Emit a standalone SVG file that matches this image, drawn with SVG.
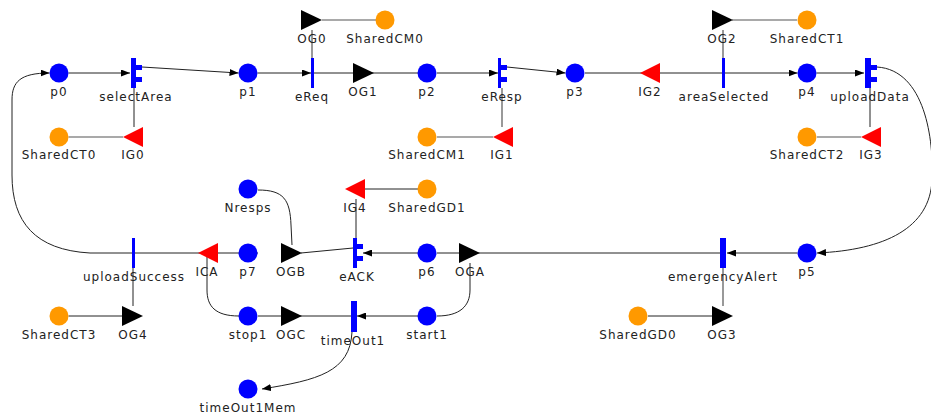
<svg xmlns="http://www.w3.org/2000/svg" width="931" height="417" viewBox="0 0 931 417">
<defs>
<style>
.pl{fill:#0000ff}
.sh{fill:#ff9900}
.og{fill:#000}
.ig{fill:#ff0000}
.tr{fill:#0000ff}
.lb{font-family:"DejaVu Sans",sans-serif;font-size:12px;letter-spacing:1px;fill:#222;text-anchor:middle}
.ar{fill:none;stroke:#222;stroke-width:1}
.gl{fill:none;stroke:#555;stroke-width:1.2}
.ah{marker-end:url(#arr)}
</style>
<marker id="arr" markerUnits="userSpaceOnUse" markerWidth="9" markerHeight="7" refX="9" refY="3.5" orient="auto">
<path d="M0,0 L9,3.5 L0,7 z" fill="#000"/>
</marker>
</defs>
<rect width="931" height="417" fill="#fff"/>
<g id="connectors">
<path class="ar ah" d="M68.5,73 L130,73"/>
<path class="ar ah" d="M142,67 L238.5,73"/>
<path class="ar ah" d="M257.5,73 L311,73"/>
<path class="ar" d="M314,73 L418,73"/>
<path class="ar ah" d="M437,73 L498,73"/>
<path class="ar ah" d="M507,67 L565.5,73"/>
<path class="ar" d="M585,73 L722,73"/>
<path class="ar ah" d="M725,73 L797.5,73"/>
<path class="ar ah" d="M816.5,73 L864,73"/>
<path class="ar ah" d="M877,67 C925,70 934,140 932,180 C930,228 885,250 817,253"/>
<path class="ar ah" d="M797.5,253 L727,253"/>
<path class="ar" d="M720,253 L437,253"/>
<path class="ar ah" d="M418,253 L363,253"/>
<path class="ar" d="M301,253 L353,248"/>
<path class="ar" d="M258,253 L239,253"/>
<path class="ar" d="M239,253 L135,253"/>
<path class="ar ah" d="M132,253 L90,253 C35,250 12,222 12,175 L12,100 C12,82 20,73 49.5,73"/>
<path class="ar" d="M258,190 C284,190 290,200 291,225 L292,245"/>
<path class="ar" d="M207,253 L207,290 C207,306 215,316 239,316"/>
<path class="ar" d="M258,316 L351,316"/>
<path class="ar ah" d="M418,316 L357,316"/>
<path class="ar" d="M470,263 L470,290 C470,306 460,316 437,316"/>
<path class="ar ah" d="M352,332 C350,372 318,380 262,389"/>
<path class="gl" d="M312,30 L312,58"/>
<path class="ar" d="M134,127 L134,88"/>
<path class="gl" d="M502,127 L502,88"/>
<path class="gl" d="M723,30 L723,58"/>
<path class="ar" d="M870,127 L870,88"/>
<path class="ar" d="M356,199 L356,238"/>
<path class="ar" d="M133,268 L133,306"/>
<path class="gl" d="M723,268 L723,306"/>
<path class="gl" d="M68.5,137 L123,137"/>
<path class="gl" d="M322,20 L376,20"/>
<path class="gl" d="M437,137 L493,137"/>
<path class="gl" d="M732,20 L797,20"/>
<path class="gl" d="M817,137 L861,137"/>
<path class="ar" d="M365,189 L418,189"/>
<path class="ar" d="M68.5,316 L122,316"/>
<path class="ar" d="M648,316 L712,316"/>
</g>
<g id="p0"><circle class="pl" cx="59" cy="73" r="9.5"/><text class="lb" x="59" y="96">p0</text></g>
<g id="p1"><circle class="pl" cx="248" cy="73" r="9.5"/><text class="lb" x="248" y="96">p1</text></g>
<g id="p2"><circle class="pl" cx="427" cy="73" r="9.5"/><text class="lb" x="427" y="96">p2</text></g>
<g id="p3"><circle class="pl" cx="575" cy="73" r="9.5"/><text class="lb" x="575" y="96">p3</text></g>
<g id="p4"><circle class="pl" cx="807" cy="73" r="9.5"/><text class="lb" x="807" y="96">p4</text></g>
<g id="Nresps"><circle class="pl" cx="248" cy="189" r="9.5"/><text class="lb" x="248" y="212">Nresps</text></g>
<g id="p7"><circle class="pl" cx="248" cy="253" r="9.5"/><text class="lb" x="248" y="276">p7</text></g>
<g id="p6"><circle class="pl" cx="427" cy="253" r="9.5"/><text class="lb" x="427" y="276">p6</text></g>
<g id="p5"><circle class="pl" cx="807" cy="253" r="9.5"/><text class="lb" x="807" y="276">p5</text></g>
<g id="stop1"><circle class="pl" cx="248" cy="316" r="9.5"/><text class="lb" x="248" y="339">stop1</text></g>
<g id="start1"><circle class="pl" cx="427" cy="316" r="9.5"/><text class="lb" x="427" y="339">start1</text></g>
<g id="timeOut1Mem"><circle class="pl" cx="248" cy="389" r="9.5"/><text class="lb" x="248" y="412">timeOut1Mem</text></g>
<g id="SharedCT0"><circle class="sh" cx="59" cy="137" r="9.5"/><text class="lb" x="59" y="159">SharedCT0</text></g>
<g id="SharedCM0"><circle class="sh" cx="385" cy="20" r="9.5"/><text class="lb" x="385" y="43">SharedCM0</text></g>
<g id="SharedCM1"><circle class="sh" cx="427" cy="137" r="9.5"/><text class="lb" x="427" y="159">SharedCM1</text></g>
<g id="SharedCT1"><circle class="sh" cx="807" cy="20" r="9.5"/><text class="lb" x="807" y="43">SharedCT1</text></g>
<g id="SharedCT2"><circle class="sh" cx="807" cy="137" r="9.5"/><text class="lb" x="807" y="159">SharedCT2</text></g>
<g id="SharedGD1"><circle class="sh" cx="427" cy="189" r="9.5"/><text class="lb" x="427" y="212">SharedGD1</text></g>
<g id="SharedCT3"><circle class="sh" cx="59" cy="316" r="9.5"/><text class="lb" x="59" y="339">SharedCT3</text></g>
<g id="SharedGD0"><circle class="sh" cx="638" cy="316" r="9.5"/><text class="lb" x="638" y="339">SharedGD0</text></g>
<g id="OG0"><polygon class="og" points="301,10 322,20 301,30"/><text class="lb" x="312" y="43">OG0</text></g>
<g id="OG1"><polygon class="og" points="353,63 374,73 353,83"/><text class="lb" x="363" y="96">OG1</text></g>
<g id="OG2"><polygon class="og" points="712,10 733,20 712,30"/><text class="lb" x="722" y="43">OG2</text></g>
<g id="OGB"><polygon class="og" points="281,243 302,253 281,263"/><text class="lb" x="291" y="276">OGB</text></g>
<g id="OGA"><polygon class="og" points="459,243 480,253 459,263"/><text class="lb" x="470" y="276">OGA</text></g>
<g id="OGC"><polygon class="og" points="281,306 302,316 281,326"/><text class="lb" x="291" y="339">OGC</text></g>
<g id="OG4"><polygon class="og" points="122,306 143,316 122,326"/><text class="lb" x="133" y="339">OG4</text></g>
<g id="OG3"><polygon class="og" points="712,306 733,316 712,326"/><text class="lb" x="722" y="339">OG3</text></g>
<g id="IG0"><polygon class="ig" points="123,137 143,127 143,147"/><text class="lb" x="133" y="159">IG0</text></g>
<g id="IG1"><polygon class="ig" points="493,137 513,127 513,147"/><text class="lb" x="502" y="159">IG1</text></g>
<g id="IG2"><polygon class="ig" points="640,73 660,63 660,83"/><text class="lb" x="650" y="96">IG2</text></g>
<g id="IG3"><polygon class="ig" points="861,137 881,127 881,147"/><text class="lb" x="871" y="159">IG3</text></g>
<g id="IG4"><polygon class="ig" points="345,189 365,179 365,199"/><text class="lb" x="355" y="212">IG4</text></g>
<g id="ICA"><polygon class="ig" points="198,253 218,243 218,263"/><text class="lb" x="207" y="276">ICA</text></g>
<g id="selectArea"><rect class="tr" x="131" y="58" width="5" height="30"/><rect class="tr" x="136" y="65" width="6" height="5"/><rect class="tr" x="136" y="77" width="6" height="5"/><text class="lb" x="136" y="101">selectArea</text></g>
<g id="eReq"><rect class="tr" x="311" y="58" width="3" height="30"/><text class="lb" x="312" y="101">eReq</text></g>
<g id="eResp"><rect class="tr" x="498" y="58" width="3" height="30"/><rect class="tr" x="501" y="65" width="6" height="5"/><rect class="tr" x="501" y="77" width="6" height="5"/><text class="lb" x="502" y="101">eResp</text></g>
<g id="areaSelected"><rect class="tr" x="722" y="58" width="3" height="30"/><text class="lb" x="724" y="101">areaSelected</text></g>
<g id="uploadData"><rect class="tr" x="865" y="58" width="6" height="30"/><rect class="tr" x="871" y="65" width="6" height="5"/><rect class="tr" x="871" y="77" width="6" height="5"/><text class="lb" x="870" y="101">uploadData</text></g>
<g id="uploadSuccess"><rect class="tr" x="132" y="238" width="3" height="30"/><text class="lb" x="134" y="281">uploadSuccess</text></g>
<g id="eACK"><rect class="tr" x="353" y="238" width="4" height="30"/><rect class="tr" x="357" y="244" width="6" height="5"/><rect class="tr" x="357" y="256" width="6" height="5"/><text class="lb" x="357" y="281">eACK</text></g>
<g id="emergencyAlert"><rect class="tr" x="720" y="238" width="6" height="30"/><text class="lb" x="723" y="281">emergencyAlert</text></g>
<g id="timeOut1"><rect class="tr" x="351" y="301" width="6" height="31"/><text class="lb" x="353" y="345">timeOut1</text></g>
</svg>
